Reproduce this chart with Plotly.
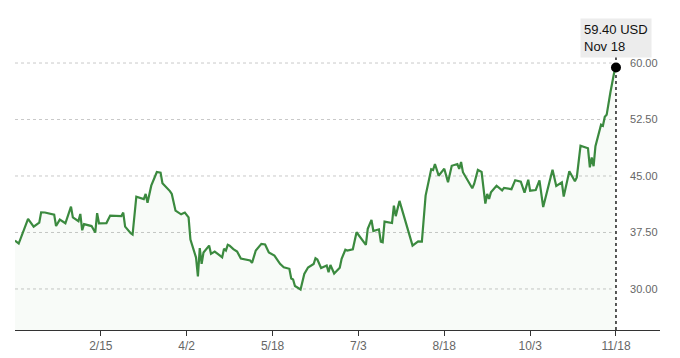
import plotly.graph_objects as go

dates = [
    "2024-12-31", "2025-01-02", "2025-01-07", "2025-01-10", "2025-01-13", "2025-01-14",
    "2025-01-16", "2025-01-19", "2025-01-21", "2025-01-22", "2025-01-24", "2025-01-27",
    "2025-01-30", "2025-01-31", "2025-02-03", "2025-02-04", "2025-02-05", "2025-02-06",
    "2025-02-10", "2025-02-12", "2025-02-13", "2025-02-14", "2025-02-18", "2025-02-20",
    "2025-02-26", "2025-02-27", "2025-02-28", "2025-03-03", "2025-03-04", "2025-03-06",
    "2025-03-10", "2025-03-11", "2025-03-12", "2025-03-14", "2025-03-17", "2025-03-19",
    "2025-03-20", "2025-03-24", "2025-03-25", "2025-03-27", "2025-03-30", "2025-04-01",
    "2025-04-03", "2025-04-04", "2025-04-06", "2025-04-07", "2025-04-08", "2025-04-09",
    "2025-04-10", "2025-04-11", "2025-04-14", "2025-04-15", "2025-04-17", "2025-04-21",
    "2025-04-22", "2025-04-23", "2025-04-24", "2025-04-25", "2025-04-27", "2025-04-29",
    "2025-05-01", "2025-05-06", "2025-05-07", "2025-05-09", "2025-05-12", "2025-05-14",
    "2025-05-16", "2025-05-19", "2025-05-22", "2025-05-24", "2025-05-27", "2025-05-28",
    "2025-05-29", "2025-05-30", "2025-06-02", "2025-06-04", "2025-06-06", "2025-06-09",
    "2025-06-10", "2025-06-11", "2025-06-13", "2025-06-16", "2025-06-17", "2025-06-18",
    "2025-06-20", "2025-06-22", "2025-06-23", "2025-06-24", "2025-06-26", "2025-06-27",
    "2025-06-30", "2025-07-02", "2025-07-05", "2025-07-07", "2025-07-08", "2025-07-10",
    "2025-07-11", "2025-07-14", "2025-07-15", "2025-07-16", "2025-07-17", "2025-07-21",
    "2025-07-22", "2025-07-23", "2025-07-25", "2025-07-28", "2025-07-30", "2025-08-01",
    "2025-08-04", "2025-08-06", "2025-08-08", "2025-08-11", "2025-08-12", "2025-08-13",
    "2025-08-15", "2025-08-18", "2025-08-20", "2025-08-22", "2025-08-25", "2025-08-26",
    "2025-08-27", "2025-08-28", "2025-09-02", "2025-09-03", "2025-09-05", "2025-09-07",
    "2025-09-09", "2025-09-10", "2025-09-11", "2025-09-12", "2025-09-15", "2025-09-18",
    "2025-09-19", "2025-09-23", "2025-09-25", "2025-09-28", "2025-09-30", "2025-10-02",
    "2025-10-03", "2025-10-06", "2025-10-08", "2025-10-10", "2025-10-15", "2025-10-17",
    "2025-10-20", "2025-10-21", "2025-10-24", "2025-10-27", "2025-10-28", "2025-10-30",
    "2025-11-03", "2025-11-04", "2025-11-05", "2025-11-06", "2025-11-07", "2025-11-09",
    "2025-11-10", "2025-11-11", "2025-11-12", "2025-11-13", "2025-11-14", "2025-11-15",
    "2025-11-17", "2025-11-18",
]

prices = [
    36.43, 36.03, 39.30, 38.28, 38.81, 40.18,
    40.15, 40.04, 39.87, 38.35, 39.21, 38.72,
    40.93, 39.51, 39.01, 39.96, 37.79, 38.61,
    38.35, 37.49, 40.07, 38.72, 38.75, 39.74,
    39.67, 40.14, 38.28, 37.39, 37.22, 42.26,
    41.93, 42.61, 41.46, 43.71, 45.53, 45.45,
    44.05, 42.99, 42.61, 40.40, 39.91, 40.14,
    39.51, 36.56, 35.10, 34.17, 31.66, 35.43,
    33.34, 34.84, 35.76, 34.66, 34.97, 34.21,
    35.33, 35.10, 35.86, 35.76, 35.30, 34.97,
    34.04, 33.78, 33.47, 35.10, 35.99, 35.90,
    34.84, 34.44, 33.34, 32.89, 32.68, 31.39,
    31.26, 30.40, 29.93, 31.99, 32.85, 33.31,
    34.08, 33.91, 32.78, 33.11, 32.23, 33.18,
    32.05, 32.65, 32.81, 34.00, 35.21, 35.10,
    35.27, 37.53, 36.43, 35.86, 37.98, 39.18,
    37.69, 37.92, 36.29, 36.20, 38.94, 38.75,
    41.06, 39.67, 41.69, 39.08, 37.49, 35.76,
    36.33, 36.29, 42.39, 45.90, 45.80, 46.59,
    45.04, 45.97, 44.18, 46.36, 46.59, 45.93,
    46.86, 45.50, 43.38, 43.94, 45.81, 45.53,
    41.33, 42.61, 41.95, 42.83, 43.71, 43.08,
    43.41, 43.25, 44.44, 44.24, 42.79, 44.51,
    43.05, 43.14, 44.42, 40.87, 45.83, 43.67,
    44.15, 42.26, 45.64, 44.31, 44.81, 49.01,
    48.68, 46.14, 47.46, 46.30, 48.95, 50.87,
    51.80, 51.66, 52.86, 53.12, 54.84, 56.08,
    58.69, 59.40,
]

x_tick_dates = ["2025-02-15", "2025-04-02", "2025-05-18", "2025-07-03",
                "2025-08-18", "2025-10-03", "2025-11-18"]
x_tick_labels = ["2/15", "4/2", "5/18", "7/3", "8/18", "10/3", "11/18"]
y_tick_values = [30, 37.5, 45, 52.5, 60]
y_tick_labels = ["30.00", "37.50", "45.00", "52.50", "60.00"]
x_range = ["2024-12-31", "2025-12-11 14:00"]
y_range = [24.55, 67.04]
last_value_label = "59.40 USD"
last_date_label = "Nov 18"

line_color = "#3b8a3f"
grid_end = 0.925      # fraction of plot width where gridlines stop
yaxis_pos = 0.952     # where the right-hand value labels begin

fig = go.Figure()
fig.add_trace(go.Scatter(
    x=dates, y=prices, mode="lines",
    line=dict(color=line_color, width=2.2),
    fill="tozeroy", fillcolor="rgba(59,138,63,0.035)",
    hoverinfo="skip", showlegend=False,
))
fig.add_trace(go.Scatter(
    x=[dates[-1]], y=[prices[-1]], mode="markers",
    marker=dict(color="black", size=10),
    hoverinfo="skip", showlegend=False,
))

shapes = []
for v in y_tick_values:
    shapes.append(dict(type="line", xref="paper", yref="y", x0=0, x1=grid_end,
                       y0=v, y1=v, layer="below",
                       line=dict(color="#c9c9c9", width=1, dash="dot")))
shapes.append(dict(type="line", xref="x", yref="paper", x0=dates[-1], x1=dates[-1],
                   y0=0, y1=0.866, layer="below",
                   line=dict(color="#222222", width=1.5, dash="dot")))

fig.update_layout(
    width=680, height=358,
    margin=dict(l=15, r=20, t=10, b=28, autoexpand=False),
    paper_bgcolor="white", plot_bgcolor="white",
    shapes=shapes,
    showlegend=False,
    font=dict(family="Liberation Sans, Arial, sans-serif"),
    xaxis=dict(
        type="date", range=x_range, automargin=False,
        tickvals=x_tick_dates, ticktext=x_tick_labels,
        ticks="outside", ticklen=5, tickcolor="#333333", tickwidth=1,
        showline=True, linecolor="#333333", linewidth=1,
        showgrid=False, zeroline=False,
        tickfont=dict(size=12, color="#666666",
                      family="Liberation Sans Narrow, Arial Narrow, Liberation Sans, sans-serif"),
        fixedrange=True,
    ),
    yaxis=dict(
        range=y_range, side="right", automargin=False,
        anchor="free", position=yaxis_pos,
        tickvals=y_tick_values, ticktext=y_tick_labels,
        ticks="", showgrid=False, zeroline=False, showline=False,
        tickfont=dict(size=11, color="#666666"),
        fixedrange=True,
    ),
    annotations=[dict(
        xref="x", yref="paper", x=dates[-1], y=0.9125,
        xanchor="center", yanchor="middle",
        text=last_value_label + "<br>" + last_date_label,
        showarrow=False, align="left",
        bgcolor="#ececec", borderpad=3,
        font=dict(size=13, color="#111111"),
    )],
)

fig.write_html("out.html", config={"displayModeBar": False},
               post_script="document.body.style.margin='0';document.body.style.padding='0';")
